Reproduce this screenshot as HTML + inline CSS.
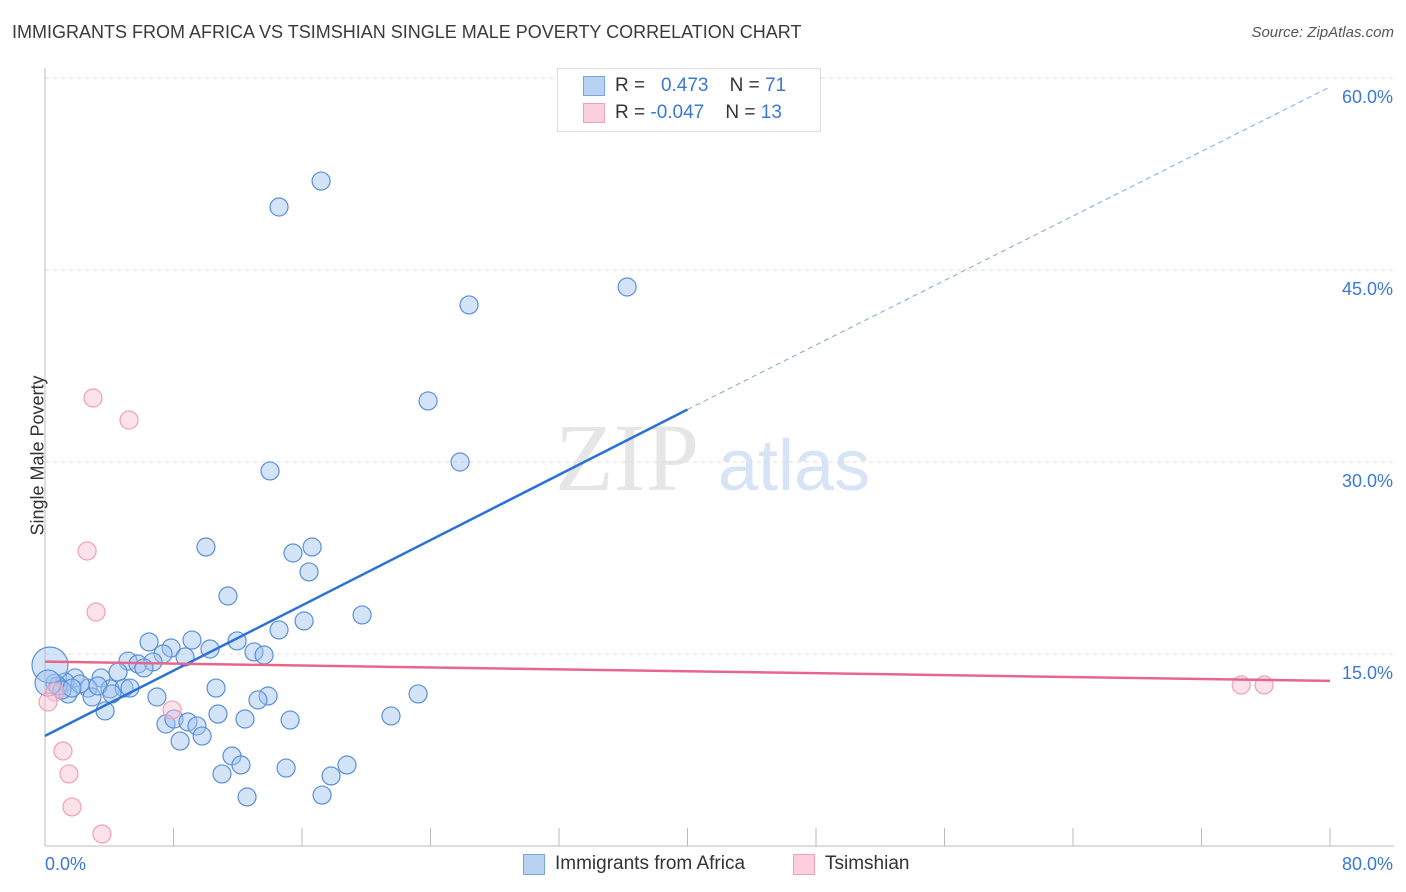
<!DOCTYPE html>
<html><head><meta charset="utf-8">
<style>
body{margin:0;background:#fff;font-family:"Liberation Sans",sans-serif;}
#wrap{position:relative;width:1406px;height:892px;overflow:hidden;}
.t{position:absolute;white-space:nowrap;}
</style></head><body>
<div id="wrap">
<div class="t" style="left:12px;top:22px;font-size:18px;color:#3a3a3a;">IMMIGRANTS FROM AFRICA VS TSIMSHIAN SINGLE MALE POVERTY CORRELATION CHART</div>
<div class="t" style="right:12px;top:24px;font-size:15px;color:#555;font-style:italic;">Source: ZipAtlas.com</div>
<svg id="chart" width="1406" height="892" style="position:absolute;left:0;top:0">
<text x="555" y="490" font-family="Liberation Serif" font-size="96" fill="#e6e6e6">ZIP</text>
<text x="718" y="490" font-family="Liberation Sans" font-size="72" fill="#d6e4f6">atlas</text>
</svg>
<div style="position:absolute;left:557px;top:68px;width:262px;height:62px;border:1px solid #ddd;background:#fff;">
 <div style="position:absolute;left:25px;top:7px;width:20px;height:18px;background:#b8d2f4;border:1px solid #7aa6e0"></div>
 <div class="t" style="left:57px;top:6px;font-size:19px;color:#333">R = &nbsp;&nbsp;<span style="color:#3a78d4">0.473</span>&nbsp;&nbsp;&nbsp; N = <span style="color:#3a78d4">71</span></div>
 <div style="position:absolute;left:25px;top:34px;width:20px;height:18px;background:#fbd0dc;border:1px solid #eea2b8"></div>
 <div class="t" style="left:57px;top:33px;font-size:19px;color:#333">R = <span style="color:#3a78d4">-0.047</span>&nbsp;&nbsp;&nbsp; N = <span style="color:#3a78d4">13</span></div>
</div>
<div class="t" style="left:-42px;top:445px;font-size:18px;color:#333;transform:rotate(-90deg);">Single Male Poverty</div>
<div>
 <div style="position:absolute;left:523px;top:854px;width:20px;height:19px;background:#b8d2f4;border:1px solid #7aa6e0"></div>
 <div class="t" style="left:555px;top:853px;font-size:19px;color:#333">Immigrants from Africa</div>
 <div style="position:absolute;left:793px;top:854px;width:20px;height:19px;background:#fbd0dc;border:1px solid #eea2b8"></div>
 <div class="t" style="left:825px;top:853px;font-size:19px;color:#333">Tsimshian</div>
</div>
</div>
<script>
const yTicks=[15,30,45,60];
const yTickLabels=["15.0%","30.0%","45.0%","60.0%"];
const xTicks=[0,10,20,30,40,50,60,70,80];
const xEndLabels=["0.0%","80.0%"];
const africaX=[17.19,14.57,36.24,26.40,23.85,25.84,14.01,10.02,16.63,15.44,16.44,11.39,19.74,16.13,14.57,11.96,6.48,9.15,7.85,10.27,7.35,8.72,5.17,5.79,6.72,6.16,13.01,13.64,4.55,3.49,1.87,1.25,0.62,2.68,4.05,4.92,5.29,6.97,10.65,13.89,13.26,23.23,2.93,3.74,1.43,0.81,7.53,8.03,8.90,9.46,12.45,15.26,21.54,8.41,9.78,10.77,11.64,12.20,11.02,15.01,17.81,18.80,12.58,17.25,1.06,2.18,1.68,3.30,4.17,0.31,0.19];
const africaY=[51.95,49.92,43.67,42.27,34.77,30.00,29.30,23.36,23.36,22.89,21.41,19.53,18.05,17.58,16.88,16.02,15.94,16.09,15.47,15.39,15.00,14.77,14.45,14.22,14.38,13.91,15.16,14.92,13.59,13.13,13.13,12.81,12.73,12.34,12.27,12.34,12.34,11.64,12.34,11.72,11.41,11.88,11.64,10.55,11.88,12.50,9.53,9.92,9.69,9.38,9.92,9.84,10.16,8.20,8.59,10.31,7.03,6.33,5.63,6.09,5.47,6.33,3.83,3.98,12.19,12.66,12.34,12.50,11.88,14.14,12.73];
const africaSize=[9,9,9,9,9,9,9,9,9,9,9,9,9,9,9,9,9,9,9,9,9,9,9,9,9,9,9,9,9,9,9,9,9,9,9,9,9,9,9,9,9,9,9,9,9,9,9,9,9,9,9,9,9,9,9,9,9,9,9,9,9,9,9,9,9,9,9,9,9,18,13];
const tsimX=[2.99,5.23,2.62,3.18,7.91,1.12,1.49,1.68,3.55,0.62,0.19,74.47,75.90];
const tsimY=[35.0,33.28,23.05,18.28,10.63,7.42,5.63,3.05,0.94,12.03,11.25,12.58,12.58];
const africaTrend=[[0,8.6],[40,34.1],[80,59.3]];
const tsimTrend=[[0,14.4],[80,12.9]];

const X0=45,X1=1330,Y0=846,YP=12.8;
const sx=v=>X0+v*(X1-X0)/80;
const sy=v=>Y0-v*YP;
const svg=document.getElementById('chart');
const NS='http://www.w3.org/2000/svg';
function mk(tag,attrs){const e=document.createElementNS(NS,tag);for(const k in attrs)e.setAttribute(k,attrs[k]);svg.appendChild(e);return e;}

yTicks.forEach((t,i)=>{
 const g=mk('line',{x1:X0,x2:1394,y1:sy(t),y2:sy(t),stroke:'#ddd','stroke-dasharray':'4,4'});
 
 
 const l=mk('text',{x:1393,y:sy(t)+25,'text-anchor':'end','font-size':'18',fill:'#3a78d4','font-family':'Liberation Sans'});
 l.textContent=yTickLabels[i];
 
 
});
const ax=mk('line',{x1:X0,x2:X0,y1:68,y2:Y0,stroke:'#bbb'});


const bx=mk('line',{x1:X0,x2:1394,y1:Y0,y2:Y0,stroke:'#bbb'});


for(let v=0;v<=80;v+=8){
 const tk=mk('line',{x1:sx(v),x2:sx(v),y1:828,y2:Y0,stroke:'#bbb'});
 
 
}
const xl0=mk('text',{x:45,y:870,'font-size':'18',fill:'#3a78d4','font-family':'Liberation Sans'});
xl0.textContent=xEndLabels[0];


const xl1=mk('text',{x:1393,y:870,'text-anchor':'end','font-size':'18',fill:'#3a78d4','font-family':'Liberation Sans'});
xl1.textContent=xEndLabels[1];



africaX.forEach((x,i)=>{
 const c=mk('circle',{cx:sx(x),cy:sy(africaY[i]),r:africaSize[i],fill:'rgba(160,196,240,0.45)',stroke:'#5a8fd8','stroke-width':1.2});
 
 
});
tsimX.forEach((x,i)=>{
 const c=mk('circle',{cx:sx(x),cy:sy(tsimY[i]),r:9,fill:'rgba(250,190,208,0.45)',stroke:'#efa0b6','stroke-width':1.2});
 
 
});
const t1=mk('line',{x1:sx(africaTrend[0][0]),y1:sy(africaTrend[0][1]),x2:sx(africaTrend[1][0]),y2:sy(africaTrend[1][1]),stroke:'#2a72d6','stroke-width':2.5});


const t2=mk('line',{x1:sx(africaTrend[1][0]),y1:sy(africaTrend[1][1]),x2:sx(africaTrend[2][0]),y2:sy(africaTrend[2][1]),stroke:'#7aa6e0','stroke-width':1,'stroke-dasharray':'5,4'});


const t3=mk('line',{x1:sx(tsimTrend[0][0]),y1:sy(tsimTrend[0][1]),x2:sx(tsimTrend[1][0]),y2:sy(tsimTrend[1][1]),stroke:'#e8668e','stroke-width':2.5});


</script>
</body></html>
